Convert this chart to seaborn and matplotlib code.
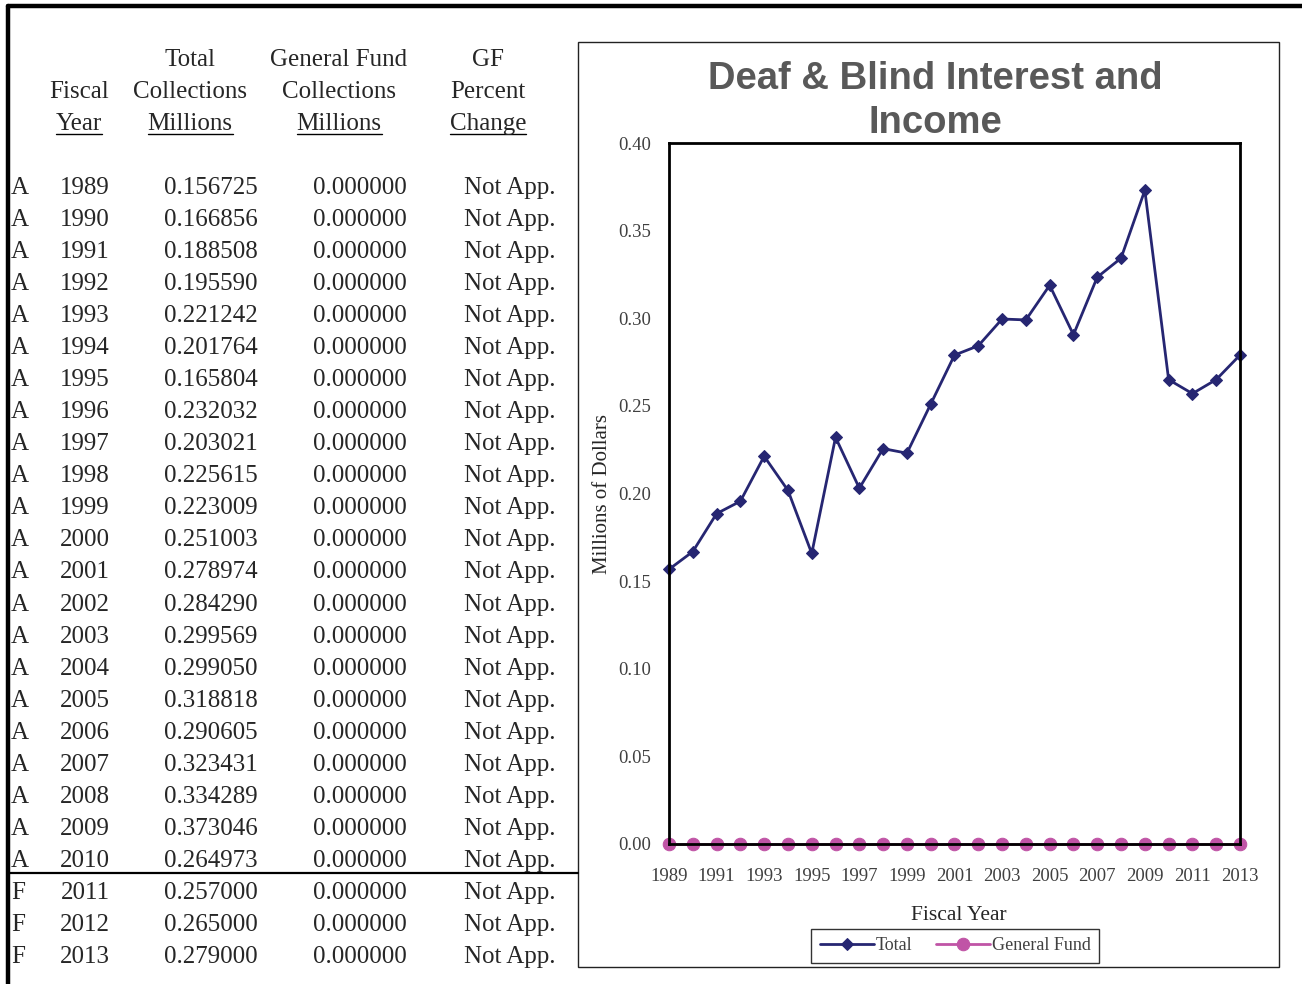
import pandas as pd
import seaborn as sns
import matplotlib.pyplot as plt
from matplotlib.lines import Line2D
from matplotlib.patches import Rectangle

# Table / chart data
years = [1989, 1990, 1991, 1992, 1993, 1994, 1995, 1996, 1997, 1998, 1999, 2000,
         2001, 2002, 2003, 2004, 2005, 2006, 2007, 2008, 2009, 2010, 2011, 2012, 2013]
status = ["A", "A", "A", "A", "A", "A", "A", "A", "A", "A", "A", "A",
          "A", "A", "A", "A", "A", "A", "A", "A", "A", "A", "F", "F", "F"]
total = [0.156725, 0.166856, 0.188508, 0.195590, 0.221242, 0.201764, 0.165804,
         0.232032, 0.203021, 0.225615, 0.223009, 0.251003, 0.278974, 0.284290,
         0.299569, 0.299050, 0.318818, 0.290605, 0.323431, 0.334289, 0.373046,
         0.264973, 0.257000, 0.265000, 0.279000]
general_fund = [0.0, 0.0, 0.0, 0.0, 0.0, 0.0, 0.0, 0.0, 0.0, 0.0, 0.0, 0.0, 0.0,
                0.0, 0.0, 0.0, 0.0, 0.0, 0.0, 0.0, 0.0, 0.0, 0.0, 0.0, 0.0]
gf_change = ["Not App."] * 25
x_ticks = [1989, 1991, 1993, 1995, 1997, 1999, 2001, 2003, 2005, 2007, 2009, 2011, 2013]
y_ticks = [0.00, 0.05, 0.10, 0.15, 0.20, 0.25, 0.30, 0.35, 0.40]

df = pd.DataFrame({"year": years, "Total": total, "General Fund": general_fund})

sns.set_style("white")
plt.rcParams["font.family"] = ["Liberation Serif", "DejaVu Serif"]

W, H = 1302, 984
fig = plt.figure(figsize=(W / 100, H / 100), dpi=100)


def fx(px):
    return px / W


def fy(py):
    return 1 - py / H


# outer page border (top and left)
fig.add_artist(Line2D([fx(8), 1], [fy(6), fy(6)], color="black", lw=3.2))
fig.add_artist(Line2D([fx(8), fx(8)], [fy(6), 0], color="black", lw=3.2))

# ---- table on the left ----
tsize = 18
headers = [
    (79, ["", "Fiscal", "Year"]),
    (190, ["Total", "Collections", "Millions"]),
    (339, ["General Fund", "Collections", "Millions"]),
    (488, ["GF", "Percent", "Change"]),
]
header_rows = [60, 92, 124]
underlined = []
for cx, lines in headers:
    for ry, s in zip(header_rows, lines):
        if s:
            t = fig.text(fx(cx), fy(ry), s, ha="center", va="center", fontsize=tsize)
            if ry == header_rows[-1]:
                underlined.append(t)

row0, step = 188, 32.04
for i in range(len(years)):
    y = fy(row0 + step * i)
    fig.text(fx(11), y, status[i], ha="left", va="center", fontsize=tsize)
    fig.text(fx(85), y, str(years[i]), ha="center", va="center", fontsize=tsize)
    fig.text(fx(211), y, f"{total[i]:.6f}", ha="center", va="center", fontsize=tsize)
    fig.text(fx(360), y, f"{general_fund[i]:.6f}", ha="center", va="center", fontsize=tsize)
    fig.text(fx(510), y, gf_change[i], ha="center", va="center", fontsize=tsize)

# line separating actual and forecast rows
fig.add_artist(Line2D([fx(8), fx(578)], [fy(873), fy(873)], color="black", lw=1.6))

# ---- chart on the right ----
fig.add_artist(Rectangle((fx(578), fy(967)), fx(1279) - fx(578), fy(42) - fy(967),
                         fill=False, edgecolor="#222222", lw=1.0))

ax = fig.add_axes([fx(669), fy(844), fx(1240) - fx(669), fy(143) - fy(844)])
navy = "#262672"
pink = "#C054A6"
sns.lineplot(data=df, x="year", y="Total", ax=ax, color=navy, lw=2.0,
             marker="D", markersize=6.5, markeredgecolor=navy, label="Total", clip_on=False)
sns.lineplot(data=df, x="year", y="General Fund", ax=ax, color=pink, lw=2.0,
             marker="o", markersize=9, markeredgecolor=pink, label="General Fund", clip_on=False)

ax.set_xlim(1989, 2013)
ax.set_ylim(0, 0.40)
ax.set_xticks(x_ticks)
ax.set_yticks(y_ticks)
ax.set_yticklabels([f"{v:.2f}" for v in y_ticks])
ax.tick_params(axis="both", length=0, labelsize=13.5, labelcolor="#404040")
ax.tick_params(axis="x", pad=17)
ax.tick_params(axis="y", pad=13)
for sp in ax.spines.values():
    sp.set_color("black")
    sp.set_linewidth(2.0)
ax.set_xlabel("Fiscal Year", fontsize=15.5)
ax.set_ylabel("Millions of Dollars", fontsize=15)
ax.xaxis.set_label_coords(0.507, -0.089)
ax.yaxis.set_label_coords(-0.1, 0.5)

fig.text(fx(935), fy(101), "Deaf & Blind Interest and\nIncome", ha="center", va="center",
         fontsize=27.5, fontweight="bold", color="#595959", family="Liberation Sans",
         linespacing=1.3)

ax.legend(loc="center", bbox_to_anchor=(fx(955), fy(946)), bbox_transform=fig.transFigure,
          ncol=2, frameon=True, fancybox=False, edgecolor="black", fontsize=13,
          handlelength=3.0, handletextpad=0.1, columnspacing=1.3, borderpad=0.45,
          labelcolor="#404040")
ax.get_legend().get_frame().set_linewidth(1.0)

# underline the last header line
fig.canvas.draw()
renderer = fig.canvas.get_renderer()
for t in underlined:
    bb = t.get_window_extent(renderer)
    ybl = bb.y0 + 1
    fig.add_artist(Line2D([bb.x0 / W, bb.x1 / W], [ybl / H, ybl / H], color="black", lw=1.0))

fig.savefig("out.png", dpi=100)
